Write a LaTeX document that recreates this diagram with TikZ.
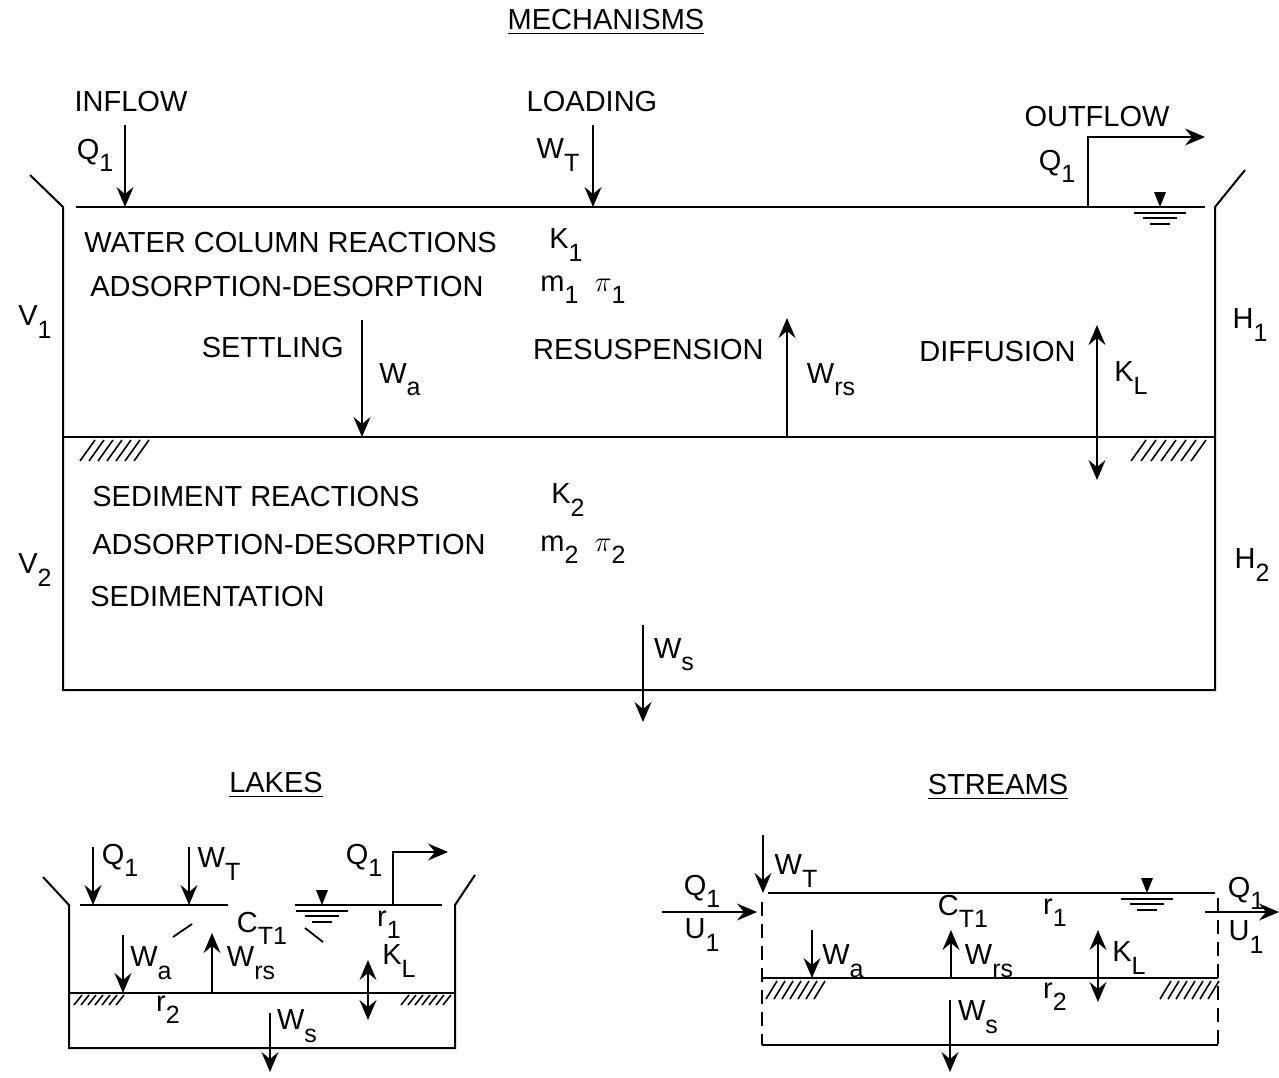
\documentclass[tikz,border=0pt]{standalone}
\usepackage{fontspec}
\setmainfont{Liberation Sans}
\usetikzlibrary{arrows.meta,positioning}
\newcommand{\subx}[1]{\raisebox{-0.8ex}{\fontsize{12.5}{12.5}\selectfont#1}}

\begin{document}
\begin{tikzpicture}[x=0.5pt, y=-0.5pt, >={Stealth[length=10pt,width=8.5pt,inset=3.5pt]}, every node/.style={font=\fontsize{14.5}{17}\selectfont, inner sep=1pt}, wall/.style={line width=1pt}, flow/.style={->, line width=0.9pt}, flux/.style={<->, line width=0.9pt}, dwall/.style={line width=1pt, dash pattern=on 7pt off 4pt}, hatch/.style={line width=0.8pt}, wlevel/.pic={\fill (0,0) -- (-6,-15) -- (6,-15) -- cycle; \draw[line width=0.7pt] (-26,6) -- (26,6); \draw[line width=0.7pt] (-17,11) -- (17,11); \draw[line width=0.7pt] (-10,17) -- (10,17);}]
\useasboundingbox (0,0) rectangle (1279,1077);
\node (title) at (606,22) {\underline{MECHANISMS}};
\coordinate (tl) at (63,207);
\coordinate (tr) at (1215,207);
\coordinate (ml) at (63,437);
\coordinate (mr) at (1215,437);
\coordinate (bl) at (63,690);
\coordinate (br) at (1215,690);
\draw[wall] (30,175) -- (tl) -- (bl) -- (br) -- (tr) -- (1245,170);
\draw[wall] (76,207) -- (1205,207);
\draw[wall] (ml) -- (mr);
\foreach \i in {0,...,6} \draw[hatch] (80+9*\i,461) -- ++(15,-21);
\foreach \i in {0,...,6} \draw[hatch] (1131+10*\i,461) -- ++(15,-21);
\pic at (1160,207) {wlevel};
\node (inflow) at (131,102) {INFLOW};
\node (q1in) at (95,155) {Q\subx{1}};
\draw[flow] (125,125) -- (125,207);
\node (loading) at (592,102) {LOADING};
\node (wt) at (558,155) {W\subx{T}};
\draw[flow] (593,125) -- (593,207);
\node (outflow) at (1097,117) {OUTFLOW};
\node (q1out) at (1057,166) {Q\subx{1}};
\draw[flow] (1088,207) |- (1205,137);
\node[anchor=west] (wcr) at (82,243) {WATER COLUMN REACTIONS};
\node (k1) at (566,245) {K\subx{1}};
\node[anchor=west] (ads1) at (88,287) {ADSORPTION-DESORPTION};
\node[anchor=west] (m1) at (538,290) {m\subx{1}\ \ $\pi$\subx{1}};
\node (v1) at (35,322) {V\subx{1}};
\node (h1) at (1250,325) {H\subx{1}};
\node[anchor=east] (settling) at (346,348) {SETTLING};
\draw[flow] (362,320) -- (362,437);
\node (wa) at (400,380) {W\subx{a}};
\node[anchor=east] (resusp) at (766,350) {RESUSPENSION};
\draw[flow] (787,437) -- (787,318);
\node (wrs) at (831,380) {W\subx{rs}};
\node[anchor=east] (diffusion) at (1078,352) {DIFFUSION};
\draw[flux] (1097,325) -- (1097,480);
\node (kl) at (1131,378) {K\subx{L}};
\node[anchor=west] (sedr) at (90,497) {SEDIMENT REACTIONS};
\node (k2) at (568,500) {K\subx{2}};
\node[anchor=west] (ads2) at (90,545) {ADSORPTION-DESORPTION};
\node[anchor=west] (m2) at (538,550) {m\subx{2}\ \ $\pi$\subx{2}};
\node[anchor=west] (sedim) at (88,597) {SEDIMENTATION};
\node (v2) at (35,570) {V\subx{2}};
\node (h2) at (1252,565) {H\subx{2}};
\draw[flow] (643,625) -- (643,722);
\node (ws) at (674,655) {W\subx{s}};
\node (lakes) at (276,785) {\underline{LAKES}};
\draw[wall] (43,877) -- (69,905) -- (69,1048) -- (455,1048) -- (455,905) -- (475,875);
\draw[wall] (80,905) -- (228,905);
\draw[wall] (295,905) -- (442,905);
\draw[wall] (69,993) -- (455,993);
\foreach \i in {0,...,6} \draw[hatch] (74+7*\i,1005) -- ++(8,-10);
\foreach \i in {0,...,6} \draw[hatch] (401+7*\i,1005) -- ++(8,-10);
\pic at (322,905) {wlevel};
\draw[flow] (93,847) -- (93,905);
\node (lq1in) at (120,860) {Q\subx{1}};
\draw[flow] (189,847) -- (189,905);
\node (lwt) at (219,864) {W\subx{T}};
\draw[flow] (393,905) |- (448,852);
\node (lq1out) at (364,860) {Q\subx{1}};
\draw[line width=0.9pt] (173,937) -- (192,924);
\draw[line width=0.9pt] (305,928) -- (323,942);
\node (lct) at (262,928) {C\subx{T1}};
\node (lr1) at (389,925) {r\subx{1}};
\draw[flow] (123,935) -- (123,993);
\node (lwa) at (151,963) {W\subx{a}};
\draw[flow] (212,993) -- (212,933);
\node (lwrs) at (251,963) {W\subx{rs}};
\draw[flux] (368,960) -- (368,1020);
\node (lkl) at (399,961) {K\subx{L}};
\node (lr2) at (168,1010) {r\subx{2}};
\draw[flow] (270,1013) -- (270,1072);
\node (lws) at (297,1026) {W\subx{s}};
\node (streams) at (998,787) {\underline{STREAMS}};
\draw[dwall] (762,902) -- (762,1045);
\draw[dwall] (1218,898) -- (1218,1045);
\draw[wall] (768,893) -- (1215,893);
\draw[wall] (762,978) -- (1218,978);
\draw[wall] (762,1045) -- (1218,1045);
\foreach \i in {0,...,6} \draw[hatch] (766+8*\i,999) -- ++(11,-18);
\foreach \i in {0,...,6} \draw[hatch] (1160+8*\i,999) -- ++(11,-18);
\pic at (1147,893) {wlevel};
\draw[flow] (763,835) -- (763,893);
\node (swt) at (796,871) {W\subx{T}};
\draw[flow] (662,912) -- (757,912);
\node (sq1in) at (702,891) {Q\subx{1}};
\node (su1in) at (702,935) {U\subx{1}};
\draw[flow] (1205,912) -- (1279,912);
\node (sq1out) at (1246,893) {Q\subx{1}};
\node (su1out) at (1246,937) {U\subx{1}};
\node (sct) at (963,911) {C\subx{T1}};
\node (sr1) at (1055,913) {r\subx{1}};
\draw[flow] (812,930) -- (812,978);
\node (swa) at (843,961) {W\subx{a}};
\draw[flow] (951,978) -- (951,930);
\node (swrs) at (989,961) {W\subx{rs}};
\draw[flux] (1098,930) -- (1098,1002);
\node (skl) at (1129,958) {K\subx{L}};
\node (sr2) at (1055,997) {r\subx{2}};
\draw[flow] (950,1000) -- (950,1072);
\node (sws) at (978,1017) {W\subx{s}};
\end{tikzpicture}
\end{document}
